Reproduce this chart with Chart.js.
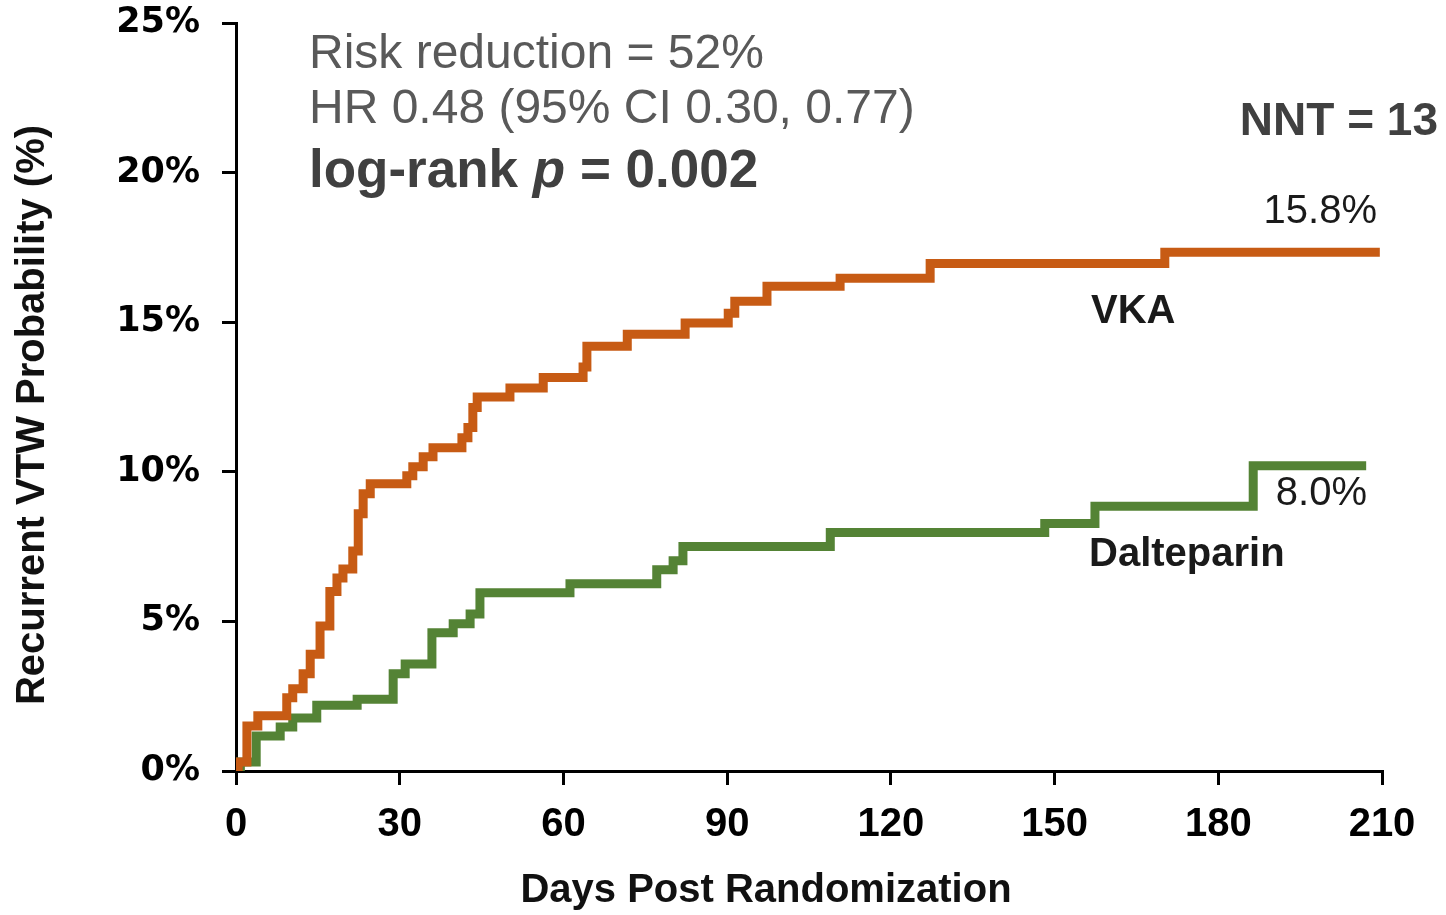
<!DOCTYPE html>
<html>
<head>
<meta charset="utf-8">
<script src="https://cdn.jsdelivr.net/npm/chart.js@4"></script>
<style>
  body { margin: 0; background: #fff; }
  canvas { display: block; }
</style>
</head>
<body>
<canvas id="kmChart" width="1446" height="915"></canvas>
<script>
// Kaplan-Meier data (days, cumulative % with recurrent VTE)
const vkaDays = [0, 0.4, 2.0, 4.0, 9.3, 10.4, 12.3, 13.6, 15.4, 17.2, 18.5, 19.6, 21.4, 22.4, 23.3, 24.6, 31.3, 32.4, 34.3, 36.1, 41.4, 42.5, 43.4, 44.2, 50.2, 56.3, 63.6, 64.3, 71.7, 82.3, 90.2, 91.4, 97.3, 110.7, 127.2, 170.2, 209.6];
const vkaRisk = [0, 0.3, 1.5, 1.85, 2.45, 2.75, 3.25, 3.9, 4.85, 6.0, 6.45, 6.75, 7.35, 8.6, 9.27, 9.6, 9.87, 10.17, 10.5, 10.8, 11.14, 11.48, 12.15, 12.5, 12.8, 13.15, 13.5, 14.2, 14.6, 14.97, 15.3, 15.7, 16.2, 16.47, 16.96, 17.34, 17.34];

const dalDays = [0, 0.8, 3.7, 8.1, 10.4, 14.8, 22.2, 28.8, 31.0, 35.9, 39.8, 42.9, 44.7, 61.2, 77.1, 80.1, 81.9, 108.9, 148.2, 157.4, 186.4, 207.1];
const dalRisk = [0, 0.3, 1.17, 1.47, 1.77, 2.2, 2.4, 3.25, 3.58, 4.62, 4.92, 5.25, 5.96, 6.26, 6.73, 7.03, 7.5, 7.97, 8.27, 8.85, 10.2, 10.2];

// axis ticks
const xTicks = [0, 30, 60, 90, 120, 150, 180, 210];
const yTicks = [0, 5, 10, 15, 20, 25];

// text shown on the figure
const statLines = ['Risk reduction = 52%', 'HR 0.48 (95% CI 0.30, 0.77)'];
const nntText = 'NNT = 13';
const vkaLabel = 'VKA';
const vkaEnd = '15.8%';
const dalLabel = 'Dalteparin';
const dalEnd = '8.0%';

const toPoints = (xs, ys) => xs.map((x, i) => ({ x: x, y: ys[i] }));

// draws titles and annotations
const textPlugin = {
    id: 'textPlugin',
    afterDraw(chart) {
        const ctx = chart.ctx;
        ctx.save();
        ctx.textBaseline = 'middle';

        // axis titles
        ctx.fillStyle = '#111';
        ctx.font = 'bold 40px "Liberation Sans", Arial, sans-serif';
        ctx.textAlign = 'center';
        ctx.fillText('Days Post Randomization', 766, 891);
        ctx.save();
        ctx.translate(33, 415);
        ctx.rotate(-Math.PI / 2);
        ctx.fillText('Recurrent VTW Probability (%)', 0, 0);
        ctx.restore();

        // statistics block
        ctx.textAlign = 'left';
        ctx.fillStyle = '#595959';
        ctx.font = '48px "Liberation Sans", Arial, sans-serif';
        ctx.fillText(statLines[0], 309, 55);
        ctx.fillText(statLines[1], 309, 110);

        ctx.fillStyle = '#404040';
        ctx.font = 'bold 53px "Liberation Sans", Arial, sans-serif';
        let x = 309;
        const part1 = 'log-rank ';
        ctx.fillText(part1, x, 172);
        x += ctx.measureText(part1).width;
        ctx.font = 'italic bold 53px "Liberation Sans", Arial, sans-serif';
        ctx.fillText('p', x, 172);
        x += ctx.measureText('p').width;
        ctx.font = 'bold 53px "Liberation Sans", Arial, sans-serif';
        ctx.fillText(' = 0.002', x, 172);

        ctx.textAlign = 'right';
        ctx.font = 'bold 46px "Liberation Sans", Arial, sans-serif';
        ctx.fillText(nntText, 1438, 122);

        // curve labels
        ctx.fillStyle = '#1a1a1a';
        ctx.font = '40px "Liberation Sans", Arial, sans-serif';
        ctx.fillText(vkaEnd, 1377, 212);
        ctx.fillText(dalEnd, 1367, 494);
        ctx.textAlign = 'left';
        ctx.font = 'bold 40px "Liberation Sans", Arial, sans-serif';
        ctx.fillText(vkaLabel, 1091, 312);
        ctx.fillText(dalLabel, 1089, 555);

        ctx.restore();
    }
};

new Chart(document.getElementById('kmChart'), {
    type: 'line',
    data: {
        datasets: [
            {
                label: 'VKA',
                data: toPoints(vkaDays, vkaRisk),
                borderColor: '#C75B14',
                borderWidth: 9,
                stepped: 'before',
                pointRadius: 0,
                fill: false,
                borderCapStyle: 'butt',
                borderJoinStyle: 'miter'
            },
            {
                label: 'Dalteparin',
                data: toPoints(dalDays, dalRisk),
                borderColor: '#548335',
                borderWidth: 9,
                stepped: 'before',
                pointRadius: 0,
                fill: false,
                borderCapStyle: 'butt',
                borderJoinStyle: 'miter'
            }
        ]
    },
    options: {
        responsive: false,
        animation: false,
        layout: { padding: { top: 23, right: 64, left: 0, bottom: 0 } },
        plugins: {
            legend: { display: false },
            tooltip: { enabled: false }
        },
        scales: {
            x: {
                type: 'linear',
                min: xTicks[0],
                max: xTicks[xTicks.length - 1],
                afterFit(scale) { scale.height = 144; },
                afterBuildTicks(scale) { scale.ticks = xTicks.map(v => ({ value: v })); },
                grid: { display: true, drawOnChartArea: false, drawTicks: true, tickLength: 14, color: '#000', lineWidth: 3 },
                border: { display: true, color: '#000', width: 3 },
                ticks: {
                    color: '#000',
                    padding: 16,
                    maxRotation: 0,
                    font: { family: '"Liberation Sans", Arial, sans-serif', size: 40, weight: 'bold' }
                }
            },
            y: {
                min: yTicks[0],
                max: yTicks[yTicks.length - 1],
                afterFit(scale) {
                    scale.width = 236;
                    scale.paddingTop = 0;
                    scale.paddingBottom = 0;
                },
                afterBuildTicks(scale) { scale.ticks = yTicks.map(v => ({ value: v })); },
                grid: { display: true, drawOnChartArea: false, drawTicks: true, tickLength: 14, color: '#000', lineWidth: 3 },
                border: { display: true, color: '#000', width: 3 },
                ticks: {
                    color: '#000',
                    padding: 22,
                    font: { family: '"DejaVu Sans", sans-serif', size: 35, weight: 'bold' },
                    callback: v => v + '%'
                }
            }
        }
    },
    plugins: [textPlugin]
});
</script>
</body>
</html>
